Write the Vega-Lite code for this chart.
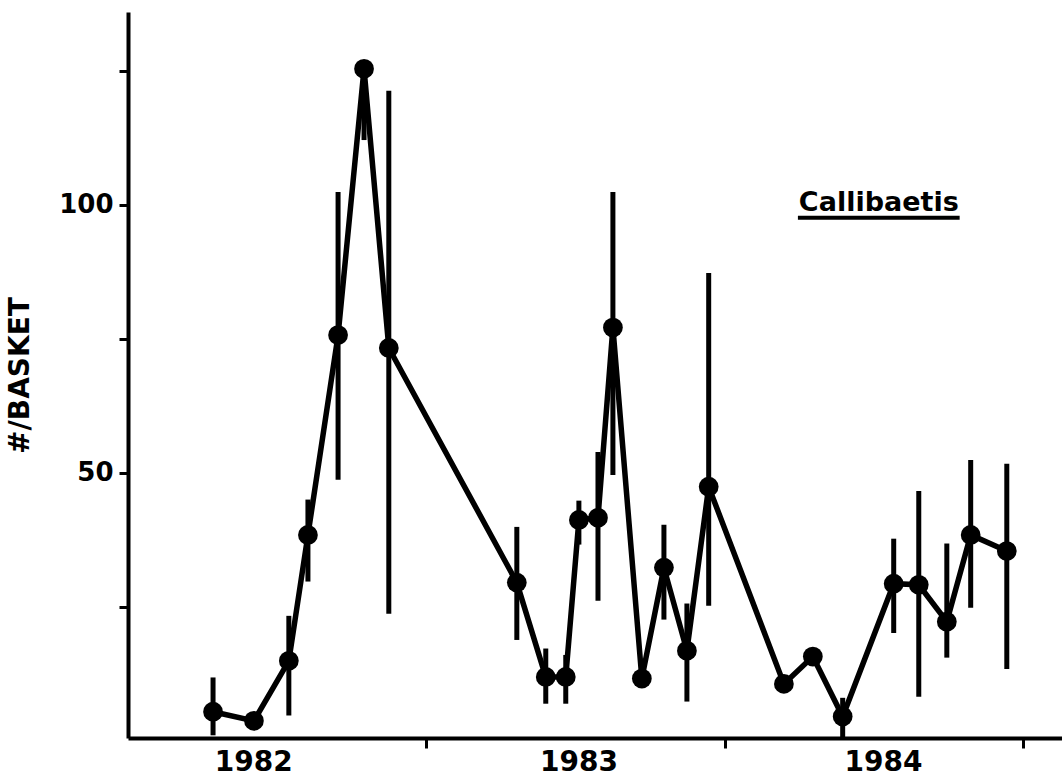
{
  "$schema": "https://vega.github.io/schema/vega-lite/v6.json",
  "width": 934,
  "height": 726,
  "autosize": "none",
  "padding": {"left": 128, "top": 12, "right": 0, "bottom": 38},
  "background": "white",
  "config": {
    "view": {"stroke": null},
    "axis": {"grid": false, "domainColor": "black", "tickColor": "black", "labelColor": "black", "titleColor": "black"}
  },
  "datasets": {
    "pts": [
      {"t": 1982.285, "v": 5.4, "lo": 1.0, "hi": 11.8},
      {"t": 1982.422, "v": 3.7, "lo": null, "hi": null},
      {"t": 1982.539, "v": 14.9, "lo": 4.7, "hi": 23.3},
      {"t": 1982.603, "v": 38.4, "lo": 29.7, "hi": 45.0},
      {"t": 1982.704, "v": 75.7, "lo": 48.7, "hi": 102.4},
      {"t": 1982.791, "v": 125.4, "lo": 112.1, "hi": 127.0},
      {"t": 1982.874, "v": 73.3, "lo": 23.7, "hi": 121.3},
      {"t": 1983.303, "v": 29.5, "lo": 18.8, "hi": 39.9},
      {"t": 1983.400, "v": 11.9, "lo": 6.9, "hi": 17.2},
      {"t": 1983.467, "v": 11.9, "lo": 6.9, "hi": 16.0},
      {"t": 1983.511, "v": 41.2, "lo": 36.6, "hi": 44.8},
      {"t": 1983.575, "v": 41.6, "lo": 26.1, "hi": 53.9},
      {"t": 1983.625, "v": 77.1, "lo": 49.6, "hi": 102.4},
      {"t": 1983.722, "v": 11.6, "lo": null, "hi": null},
      {"t": 1983.796, "v": 32.3, "lo": 22.6, "hi": 40.3},
      {"t": 1983.873, "v": 16.8, "lo": 7.3, "hi": 25.6},
      {"t": 1983.946, "v": 47.4, "lo": 25.2, "hi": 87.3},
      {"t": 1984.198, "v": 10.6, "lo": null, "hi": null},
      {"t": 1984.295, "v": 15.7, "lo": null, "hi": null},
      {"t": 1984.395, "v": 4.5, "lo": 0.6, "hi": 8.0},
      {"t": 1984.566, "v": 29.3, "lo": 20.1, "hi": 37.7},
      {"t": 1984.650, "v": 29.1, "lo": 8.2, "hi": 46.6},
      {"t": 1984.744, "v": 22.2, "lo": 15.5, "hi": 36.8},
      {"t": 1984.824, "v": 38.4, "lo": 24.8, "hi": 52.4},
      {"t": 1984.945, "v": 35.4, "lo": 13.4, "hi": 51.7}
    ],
    "label": [
      {"t": 1984.516, "v": 98.9, "t0": 1984.245, "t1": 1984.787, "u": 97.6, "name": "Callibaetis"}
    ]
  },
  "layer": [
    {
      "data": {"name": "pts"},
      "transform": [{"filter": "isValid(datum.hi)"}],
      "mark": {"type": "rule", "color": "black", "strokeWidth": 5},
      "encoding": {
        "x": {
          "field": "t", "type": "quantitative",
          "scale": {"domain": [1982, 1985.13], "nice": false, "zero": false},
          "axis": {
            "title": null,
            "values": [1982.42, 1983, 1983.51, 1984, 1984.53, 1985],
            "labelExpr": "datum.value % 1 == 0 ? '' : '' + floor(datum.value)",
            "labelOverlap": false,
            "labelFlush": false,
            "labelBound": false,
            "labelFont": "DejaVu Sans",
            "labelFontWeight": "bold",
            "labelFontSize": 28,
            "labelPadding": 0,
            "tickSize": 10,
            "tickWidth": 3,
            "tickOpacity": {"condition": {"test": "datum.value % 1 == 0", "value": 1}, "value": 0},
            "domainWidth": 4
          }
        },
        "y": {
          "field": "lo", "type": "quantitative",
          "scale": {"domain": [0.5, 136], "nice": false, "zero": false},
          "axis": {
            "title": "#/BASKET",
            "titleFont": "DejaVu Sans",
            "titleFontWeight": "bold",
            "titleFontSize": 28,
            "titlePadding": 24,
            "values": [25, 50, 75, 100, 125],
            "labelExpr": "datum.value == 50 || datum.value == 100 ? datum.label : ''",
            "labelFont": "DejaVu Sans",
            "labelFontWeight": "bold",
            "labelFontSize": 26,
            "labelPadding": 6,
            "tickSize": 9,
            "tickWidth": 3,
            "domainWidth": 4
          }
        },
        "y2": {"field": "hi"}
      }
    },
    {
      "data": {"name": "pts"},
      "mark": {"type": "line", "color": "black", "strokeWidth": 5.5},
      "encoding": {
        "x": {"field": "t", "type": "quantitative"},
        "y": {"field": "v", "type": "quantitative"}
      }
    },
    {
      "data": {"name": "pts"},
      "mark": {"type": "point", "filled": true, "color": "black", "opacity": 1, "size": 390, "shape": "circle"},
      "encoding": {
        "x": {"field": "t", "type": "quantitative"},
        "y": {"field": "v", "type": "quantitative"}
      }
    },
    {
      "data": {"name": "label"},
      "mark": {"type": "text", "font": "DejaVu Sans", "fontWeight": "bold", "fontSize": 27, "align": "center", "baseline": "alphabetic", "color": "black"},
      "encoding": {
        "x": {"field": "t", "type": "quantitative"},
        "y": {"field": "v", "type": "quantitative"},
        "text": {"field": "name"}
      }
    },
    {
      "data": {"name": "label"},
      "mark": {"type": "rule", "color": "black", "strokeWidth": 4},
      "encoding": {
        "x": {"field": "t0", "type": "quantitative"},
        "x2": {"field": "t1"},
        "y": {"field": "u", "type": "quantitative"}
      }
    }
  ]
}
